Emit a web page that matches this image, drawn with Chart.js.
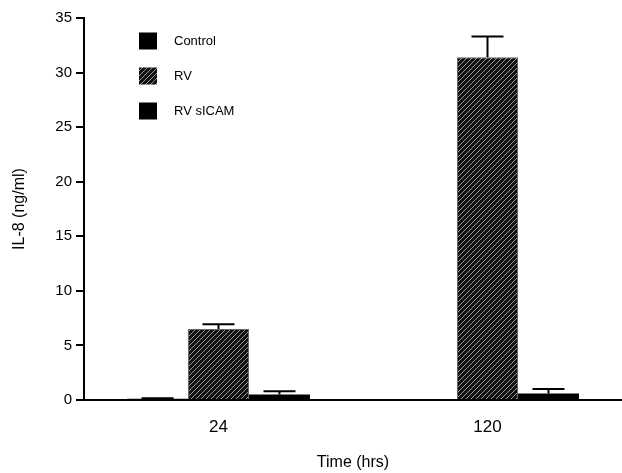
<!DOCTYPE html>
<html>
<head>
<meta charset="utf-8">
<script src="https://cdn.jsdelivr.net/npm/chart.js@4/dist/chart.umd.min.js"></script>
<style>
  html, body { margin: 0; padding: 0; background: #fff; }
  #wrap { width: 622px; height: 473px; position: relative; }
</style>
</head>
<body>
<div id="wrap"><canvas id="chart"></canvas></div>
<script>
// values (ng/ml)
const timeLabels = ["24", "120"];
const controlVals = [0.12, 0];
const controlErr = [0.05, 0];
const rvVals = [6.5, 31.4];
const rvErr = [0.45, 1.9];
const sicamVals = [0.5, 0.6];
const sicamErr = [0.3, 0.4];
const yTicks = [0, 5, 10, 15, 20, 25, 30, 35];

const FONT = "'Liberation Sans', Arial, Helvetica, sans-serif";

function hatch() {
    let c = document.createElement("canvas");
    c.width = 5;
    c.height = 5;
    let g = c.getContext("2d");
    g.fillStyle = "#111";
    g.fillRect(0, 0, 5, 5);
    g.strokeStyle = "#a8a8a8";
    g.lineWidth = 0.9;
    g.beginPath();
    g.moveTo(-1, 6); g.lineTo(6, -1);
    g.moveTo(-1, 1); g.lineTo(1, -1);
    g.moveTo(4, 6); g.lineTo(6, 4);
    g.stroke();
    return g.createPattern(c, "repeat");
}

// one-sided (upward) error bars
const errorBars = {
    id: "errorBars",
    afterDatasetsDraw(chart) {
        let ctx = chart.ctx;
        let y = chart.scales.y;
        ctx.save();
        ctx.strokeStyle = "#000";
        ctx.lineWidth = 2;
        chart.data.datasets.forEach((ds, i) => {
            let meta = chart.getDatasetMeta(i);
            meta.data.forEach((bar, j) => {
                let e = ds.errors[j];
                if (!e) return;
                let top = y.getPixelForValue(ds.data[j] + e);
                ctx.beginPath();
                ctx.moveTo(bar.x, bar.y);
                ctx.lineTo(bar.x, top);
                ctx.moveTo(bar.x - 16, top);
                ctx.lineTo(bar.x + 16, top);
                ctx.stroke();
            });
        });
        ctx.restore();
    }
};

// legend drawn inside the plot, top left
const innerLegend = {
    id: "innerLegend",
    afterDraw(chart) {
        let ctx = chart.ctx;
        ctx.save();
        ctx.font = "13px " + FONT;
        ctx.textBaseline = "middle";
        chart.data.datasets.forEach((ds, i) => {
            let cy = 41 + i * 35;
            ctx.fillStyle = ds.backgroundColor;
            ctx.fillRect(139, cy - 8.5, 18, 17);
            ctx.fillStyle = "#000";
            ctx.fillText(ds.label, 174, cy);
        });
        ctx.restore();
    }
};

let ctx = document.getElementById("chart").getContext("2d");
new Chart(ctx,
{
    type: "bar",
    data: {
        labels: timeLabels,
        datasets: [
            { label: "Control", data: controlVals, errors: controlErr, backgroundColor: "#000" },
            { label: "RV", data: rvVals, errors: rvErr, backgroundColor: hatch(), borderColor: "#666", borderWidth: 1, borderSkipped: "bottom" },
            { label: "RV sICAM", data: sicamVals, errors: sicamErr, backgroundColor: "#000" }
        ]
    },
    options: {
        responsive: true,
        maintainAspectRatio: false,
        animation: false,
        layout: { padding: { left: 0, right: -3, top: 18, bottom: 0 } },
        datasets: { bar: { categoryPercentage: 0.68, barPercentage: 1 } },
        plugins: {
            legend: { display: false },
            tooltip: { enabled: false }
        },
        scales: {
            x: {
                grid: { display: false },
                border: { display: true, color: "#000", width: 2 },
                ticks: { color: "#000", font: { family: FONT, size: 17 }, padding: 9 },
                title: { display: true, text: "Time (hrs)", color: "#000", font: { family: FONT, size: 16 }, padding: { top: 0, bottom: 1 } },
                afterFit: (s) => { s.height = 73; }
            },
            y: {
                min: 0,
                max: 35,
                afterBuildTicks: (s) => { s.ticks = yTicks.map((v) => ({ value: v })); },
                grid: { drawOnChartArea: false, drawTicks: true, tickLength: 8, color: "#000", lineWidth: 2 },
                border: { display: true, color: "#000", width: 2 },
                ticks: { color: "#000", font: { family: FONT, size: 15 }, padding: 4 },
                title: { display: true, text: "IL-8 (ng/ml)", color: "#000", font: { family: FONT, size: 16 }, padding: { top: 10, bottom: 0 } },
                afterFit: (s) => { s.width = 84; }
            }
        }
    },
    plugins: [errorBars, innerLegend]
});
</script>
</body>
</html>
